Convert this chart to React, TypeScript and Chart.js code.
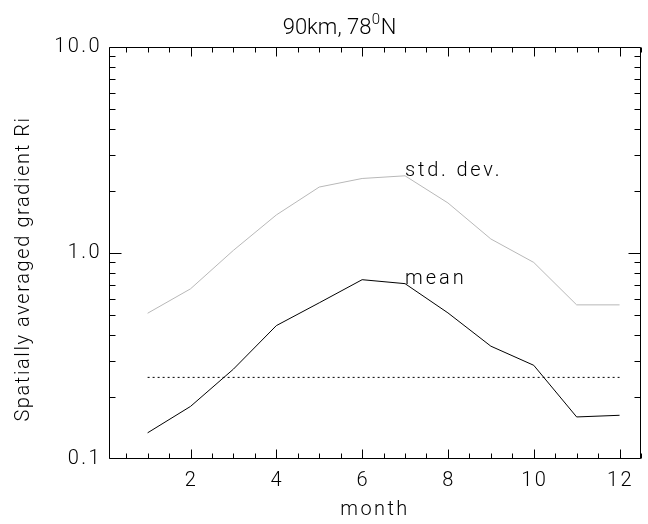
import { useEffect, useRef } from "react";
import { Chart, registerables } from "chart.js";

Chart.register(...registerables);

// ---- data ----
const months = [1, 2, 3, 4, 5, 6, 7, 8, 9, 10, 11, 12];
const stdDev = [0.51, 0.67, 1.03, 1.53, 2.09, 2.3, 2.37, 1.75, 1.17, 0.9, 0.56, 0.56];
const meanRi = [0.134, 0.18, 0.273, 0.444, 0.573, 0.742, 0.71, 0.512, 0.353, 0.285, 0.16, 0.163];
const criticalRi = 0.249;
const criticalMonths = [1, 12];
const xTickValues = [2, 4, 6, 8, 10, 12];
const yTickValues = [0.1, 1, 10];
const yTickLabels = ["0.1", "1.0", "10.0"];
const titleMain = "90km, 78";
const titleSup = "0";
const titleEnd = "N";
const xTitle = "month";
const yTitle = "Spatially averaged gradient Ri";
const stdLabel = "std. dev.";
const meanLabel = "mean";
const labelMonth = 7;

const FONT_FAMILY = "Roboto, 'Liberation Sans', sans-serif";

const framePlugin = {
  id: "idlFrame",
  afterDraw(chart: any) {
    const ctx = chart.ctx as CanvasRenderingContext2D;
    const c = ctx as any;
    const xs = chart.scales.x;
    const ys = chart.scales.y;
    const a = chart.chartArea;
    const L = Math.round(a.left) + 0.5;
    const R = Math.round(a.right) - 0.5;
    const T = Math.round(a.top) + 0.5;
    const B = Math.round(a.bottom) - 0.5;
    ctx.save();
    ctx.strokeStyle = "#000";
    ctx.lineWidth = 1;
    ctx.setLineDash([]);
    ctx.beginPath();
    ctx.rect(L, T, R - L, B - T);
    ctx.stroke();

    // x ticks every half month, major every 2
    for (let v = 0.5; v <= xs.max + 1e-6; v += 0.5) {
      if (v < xs.min) continue;
      const px = Math.round(xs.getPixelForValue(v)) + 0.5;
      const len = Math.abs(v % 2) < 1e-6 ? 9 : 5;
      ctx.beginPath();
      ctx.moveTo(px, B);
      ctx.lineTo(px, B - len);
      ctx.moveTo(px, T);
      ctx.lineTo(px, T + len);
      ctx.stroke();
    }
    // y log ticks
    for (const dec of [0.1, 1, 10]) {
      for (let k = 1; k <= 9; k++) {
        const v = dec * k;
        if (v < ys.min - 1e-9 || v > ys.max + 1e-9) continue;
        let py = Math.round(ys.getPixelForValue(v)) + 0.5;
        if (py > B) py = B;
        if (py < T) py = T;
        const len = k === 1 ? 12 : 6;
        ctx.beginPath();
        ctx.moveTo(L, py);
        ctx.lineTo(L + len, py);
        ctx.moveTo(R, py);
        ctx.lineTo(R - len, py);
        ctx.stroke();
      }
    }

    ctx.fillStyle = "#000";
    // tick labels
    ctx.font = `300 20px ${FONT_FAMILY}`;
    c.letterSpacing = "2.4px";
    ctx.textAlign = "center";
    ctx.textBaseline = "middle";
    xTickValues.forEach((v) => {
      ctx.fillText(String(v), xs.getPixelForValue(v) + 1, a.bottom + 22);
    });
    ctx.textAlign = "right";
    yTickValues.forEach((v, i) => {
      ctx.fillText(yTickLabels[i], a.left - 7, ys.getPixelForValue(v));
    });

    // axis titles
    ctx.textAlign = "center";
    ctx.fillText(xTitle, (a.left + a.right) / 2, a.bottom + 51);
    c.letterSpacing = "1.6px";
    ctx.save();
    ctx.translate(24, (a.top + a.bottom) / 2 + 16);
    ctx.rotate(-Math.PI / 2);
    ctx.fillText(yTitle, 0, 0);
    ctx.restore();

    // in-plot labels
    c.letterSpacing = "2.8px";
    ctx.textAlign = "left";
    ctx.textBaseline = "alphabetic";
    ctx.fillText(stdLabel, xs.getPixelForValue(labelMonth), ys.getPixelForValue(stdDev[labelMonth - 1]));
    c.letterSpacing = "3px";
    ctx.fillText(meanLabel, xs.getPixelForValue(labelMonth), ys.getPixelForValue(meanRi[labelMonth - 1]));

    // title with superscript
    c.letterSpacing = "0px";
    const mainFont = `300 22px ${FONT_FAMILY}`;
    const supFont = `300 15px ${FONT_FAMILY}`;
    ctx.font = mainFont;
    const w1 = ctx.measureText(titleMain).width;
    const w3 = ctx.measureText(titleEnd).width;
    ctx.font = supFont;
    const w2 = ctx.measureText(titleSup).width;
    const total = w1 + w2 + w3;
    let tx = 339 - total / 2;
    const base = 34;
    ctx.textAlign = "left";
    ctx.font = mainFont;
    ctx.fillText(titleMain, tx, base);
    tx += w1 + 0.5;
    ctx.font = supFont;
    ctx.fillText(titleSup, tx, base - 10);
    tx += w2 + 0.5;
    ctx.font = mainFont;
    ctx.fillText(titleEnd, tx, base);
    ctx.restore();
  },
};

export default function App() {
  const ref = useRef<HTMLCanvasElement | null>(null);
  useEffect(() => {
    if (!ref.current) return;
    const chart = new Chart(ref.current, {
      type: "line",
      data: {
        datasets: [
          {
            label: "std. dev.",
            data: months.map((m, i) => ({ x: m, y: stdDev[i] })),
            borderColor: "#b8b8b8",
            borderWidth: 1,
            pointRadius: 0,
            tension: 0,
          },
          {
            label: "mean",
            data: months.map((m, i) => ({ x: m, y: meanRi[i] })),
            borderColor: "#000",
            borderWidth: 1,
            pointRadius: 0,
            tension: 0,
          },
          {
            label: "critical",
            data: criticalMonths.map((m) => ({ x: m, y: criticalRi })),
            borderColor: "#000",
            borderWidth: 1,
            borderDash: [2, 3],
            pointRadius: 0,
          },
        ],
      },
      options: {
        responsive: false,
        animation: false,
        devicePixelRatio: 1,
        layout: { padding: { left: 109, right: 7, top: 47, bottom: 65 } },
        plugins: { legend: { display: false }, tooltip: { enabled: false }, title: { display: false } },
        scales: {
          x: { type: "linear", min: 0.1, max: 12.5, display: false },
          y: { type: "logarithmic", min: 0.1, max: 10, display: false },
        },
      },
      plugins: [framePlugin],
    });
    return () => chart.destroy();
  }, []);
  return (
    <div style={{ position: "absolute", left: 0, top: 0, width: 648, height: 524, background: "#fff" }}>
      <canvas ref={ref} width={648} height={524} />
    </div>
  );
}
